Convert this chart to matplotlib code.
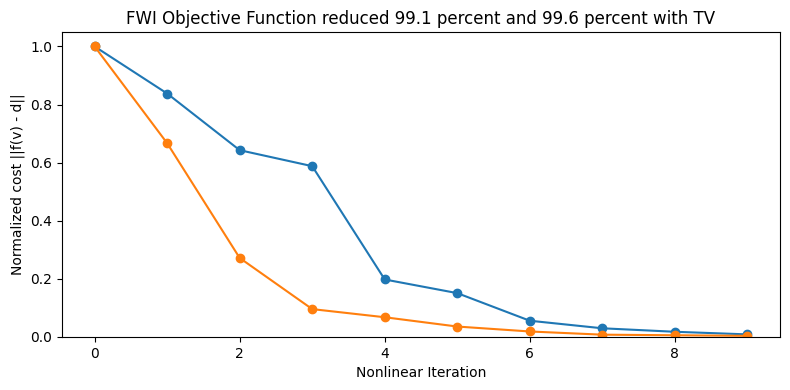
import matplotlib
matplotlib.use("Agg")
import matplotlib.pyplot as plt

iterations = list(range(10))
cost_fwi = [1.0, 0.838, 0.643, 0.588, 0.198, 0.151, 0.056, 0.030, 0.018, 0.009]
cost_fwi_tv = [1.0, 0.667, 0.272, 0.096, 0.068, 0.036, 0.019, 0.008, 0.006, 0.004]

fig, ax = plt.subplots(figsize=(7.9, 3.9), dpi=100)
ax.plot(iterations, cost_fwi, "-o")
ax.plot(iterations, cost_fwi_tv, "-o")
ax.set_ylim(bottom=0)
ax.set_title("FWI Objective Function reduced 99.1 percent and 99.6 percent with TV")
ax.set_xlabel("Nonlinear Iteration")
ax.set_ylabel("Normalized cost ||f(v) - d||")
fig.subplots_adjust(left=62 / 790, right=780 / 790, top=1 - 32 / 390, bottom=1 - 337 / 390)
fig.savefig("out.png", dpi=100)
